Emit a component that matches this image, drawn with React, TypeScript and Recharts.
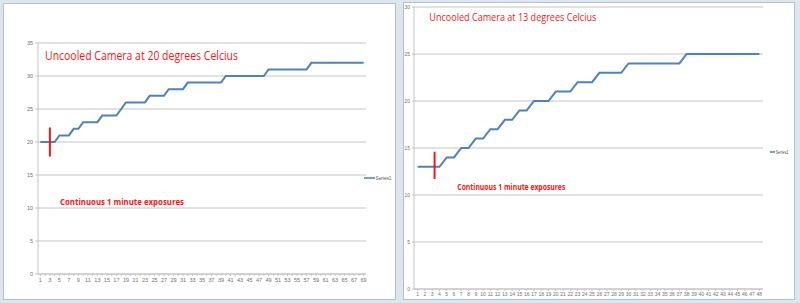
import React from 'react';
import { LineChart, Line, XAxis, YAxis, CartesianGrid, ReferenceLine, Legend } from 'recharts';

// ---- Left chart: uncooled camera at 20 °C ----
const leftMinutes = [
  1, 2, 3, 4, 5, 6, 7, 8, 9, 10, 11, 12, 13, 14, 15, 16, 17, 18, 19, 20, 21, 22, 23,
  24, 25, 26, 27, 28, 29, 30, 31, 32, 33, 34, 35, 36, 37, 38, 39, 40, 41, 42, 43, 44, 45, 46,
  47, 48, 49, 50, 51, 52, 53, 54, 55, 56, 57, 58, 59, 60, 61, 62, 63, 64, 65, 66, 67, 68, 69,
];
const leftTemps = [
  20, 20, 20, 20, 21, 21, 21, 22, 22, 23, 23, 23, 23, 24, 24, 24, 24, 25, 26, 26, 26, 26, 26,
  27, 27, 27, 27, 28, 28, 28, 28, 29, 29, 29, 29, 29, 29, 29, 29, 30, 30, 30, 30, 30, 30, 30,
  30, 30, 31, 31, 31, 31, 31, 31, 31, 31, 31, 32, 32, 32, 32, 32, 32, 32, 32, 32, 32, 32, 32,
];
const leftYTicks = [0, 5, 10, 15, 20, 25, 30, 35];
const leftMarker = { x: 3, low: 17.8, high: 22.2 };
const leftTitle = 'Uncooled Camera at 20 degrees Celcius';

// ---- Right chart: uncooled camera at 13 °C ----
const rightMinutes = [
  1, 2, 3, 4, 5, 6, 7, 8, 9, 10, 11, 12, 13, 14, 15, 16, 17, 18, 19, 20, 21, 22, 23, 24,
  25, 26, 27, 28, 29, 30, 31, 32, 33, 34, 35, 36, 37, 38, 39, 40, 41, 42, 43, 44, 45, 46, 47, 48,
];
const rightTemps = [
  13, 13, 13, 13, 14, 14, 15, 15, 16, 16, 17, 17, 18, 18, 19, 19, 20, 20, 20, 21, 21, 21, 22, 22,
  22, 23, 23, 23, 23, 24, 24, 24, 24, 24, 24, 24, 24, 25, 25, 25, 25, 25, 25, 25, 25, 25, 25, 25,
];
const rightYTicks = [0, 5, 10, 15, 20, 25, 30];
const rightMarker = { x: 3.33, low: 11.7, high: 14.6 };
const rightTitle = 'Uncooled Camera at 13 degrees Celcius';

const subtitle = 'Continuous 1 minute exposures';
const seriesName = 'Series1';

const leftData = leftMinutes.map((m, i) => ({ minute: m, temp: leftTemps[i] }));
const rightData = rightMinutes.map((m, i) => ({ minute: m, temp: rightTemps[i] }));

const LINE = '#4f81bd';
const GRID = '#c4c4c4';
const RED = '#f01818';
const TICK = '#707070';

function LegendBox(props: { lineLen: number; fontSize: number; textLen: number }) {
  const { lineLen, fontSize, textLen } = props;
  return (
    <svg width={40} height={10} style={{ display: 'block', overflow: 'visible' }}>
      <line x1={2} y1={5} x2={2 + lineLen} y2={5} stroke={LINE} strokeWidth={1.5} />
      <text
        x={2.5 + lineLen}
        y={5 + fontSize * 0.35}
        fontSize={fontSize}
        fill="#555"
        textLength={textLen}
        lengthAdjust="spacingAndGlyphs"
      >
        {seriesName}
      </text>
    </svg>
  );
}

export default function App() {
  const font = '"Liberation Sans", Arial, sans-serif';
  const titleFont = '"Liberation Sans Narrow", "Open Sans", sans-serif';
  return (
    <div
      style={{
        position: 'absolute',
        left: 0,
        top: 0,
        width: 800,
        height: 303,
        background: '#dfe5ec',
        overflow: 'hidden',
        fontFamily: font,
      }}
    >
      <div
        style={{
          position: 'absolute',
          left: 3,
          top: 3,
          width: 391,
          height: 295,
          background: '#ffffff',
          border: '1px solid #b4c0cc',
        }}
      />
      <div
        style={{
          position: 'absolute',
          left: 403,
          top: 2,
          width: 390,
          height: 296,
          background: '#ffffff',
          border: '1px solid #b4c0cc',
        }}
      />

      <div style={{ position: 'absolute', left: 0, top: 0 }}>
        <LineChart width={400} height={303} data={leftData} margin={{ top: 43, right: 34, bottom: 9, left: 0 }}>
          <CartesianGrid vertical={false} stroke={GRID} strokeWidth={1} />
          <XAxis
            type="number"
            dataKey="minute"
            domain={[0.5, 69.5]}
            ticks={leftMinutes}
            interval={0}
            tickFormatter={(v: number) => (v % 2 === 1 ? String(v) : '')}
            height={20}
            tickSize={2}
            tickMargin={2}
            stroke={GRID}
            tick={{ fontSize: 5.5, fill: TICK }}
          />
          <YAxis
            type="number"
            domain={[0, 35]}
            ticks={leftYTicks}
            interval={0}
            width={38}
            tickSize={3}
            tickMargin={2}
            stroke={GRID}
            tick={{ fontSize: 5.5, fill: TICK }}
          />
          <Line
            type="linear"
            dataKey="temp"
            name={seriesName}
            stroke={LINE}
            strokeWidth={2}
            dot={false}
            isAnimationActive={false}
          />
          <ReferenceLine
            segment={[
              { x: leftMarker.x, y: leftMarker.low },
              { x: leftMarker.x, y: leftMarker.high },
            ]}
            stroke={RED}
            strokeWidth={2}
          />
          <Legend
            layout="horizontal"
            align="center"
            verticalAlign="middle"
            wrapperStyle={{ left: 362, top: 173, width: 40, height: 10 }}
            content={() => <LegendBox lineLen={11} fontSize={5.5} textLen={16} />}
          />
        </LineChart>
      </div>

      <div style={{ position: 'absolute', left: 400, top: 0 }}>
        <LineChart width={400} height={303} data={rightData} margin={{ top: 7, right: 37, bottom: 2, left: 0 }}>
          <CartesianGrid vertical={false} stroke={GRID} strokeWidth={1} />
          <XAxis
            type="number"
            dataKey="minute"
            domain={[0.5, 48.5]}
            ticks={rightMinutes}
            interval={0}
            height={12}
            tickSize={2}
            tickMargin={1.5}
            stroke={GRID}
            tick={{ fontSize: 5, fill: TICK }}
          />
          <YAxis
            type="number"
            domain={[0, 30]}
            ticks={rightYTicks}
            interval={0}
            width={14}
            tickSize={2}
            tickMargin={2}
            stroke={GRID}
            tick={{ fontSize: 5, fill: TICK }}
          />
          <Line
            type="linear"
            dataKey="temp"
            name={seriesName}
            stroke={LINE}
            strokeWidth={2}
            dot={false}
            isAnimationActive={false}
          />
          <ReferenceLine
            segment={[
              { x: rightMarker.x, y: rightMarker.low },
              { x: rightMarker.x, y: rightMarker.high },
            ]}
            stroke={RED}
            strokeWidth={2}
          />
          <Legend
            layout="horizontal"
            align="center"
            verticalAlign="middle"
            wrapperStyle={{ left: 368, top: 146.7, width: 40, height: 10 }}
            content={() => <LegendBox lineLen={5} fontSize={4.5} textLen={13} />}
          />
        </LineChart>
      </div>

      <svg
        width={800}
        height={303}
        style={{ position: 'absolute', left: 0, top: 0, pointerEvents: 'none' }}
      >
        <text
          x={45}
          y={59.5}
          fontSize={13.5}
          fill={RED}
          fontFamily={titleFont}
          textLength={193}
          lengthAdjust="spacingAndGlyphs"
        >
          {leftTitle}
        </text>
        <text
          x={60}
          y={205}
          fontSize={8.5}
          fontWeight="bold"
          fill={RED}
          fontFamily={titleFont}
          textLength={124}
          lengthAdjust="spacingAndGlyphs"
        >
          {subtitle}
        </text>
        <text
          x={429.3}
          y={20.7}
          fontSize={11.5}
          fill={RED}
          fontFamily={titleFont}
          textLength={167}
          lengthAdjust="spacingAndGlyphs"
        >
          {rightTitle}
        </text>
        <text
          x={457.3}
          y={190}
          fontSize={8}
          fontWeight="bold"
          fill={RED}
          fontFamily={titleFont}
          textLength={108}
          lengthAdjust="spacingAndGlyphs"
        >
          {subtitle}
        </text>
      </svg>
    </div>
  );
}
